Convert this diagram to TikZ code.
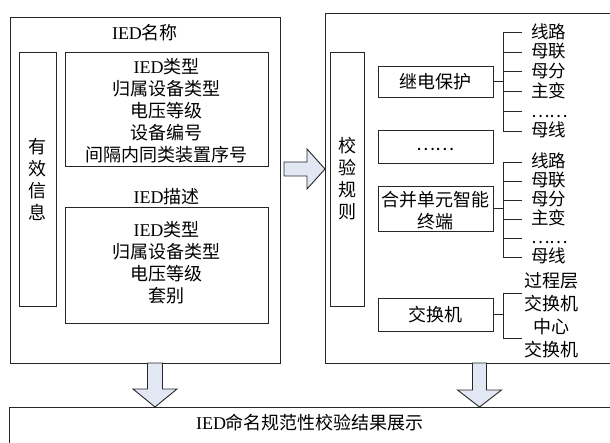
\documentclass[tikz,border=0pt]{standalone}
\usepackage{fontspec}
\setmainfont{Noto Sans CJK SC}
\newfontfamily\lat{Liberation Serif}
\newcommand\ied{{\lat IED}}
\definecolor{arrowfill}{HTML}{E2E8F3}
\definecolor{ink}{HTML}{262626}

\begin{document}
\begin{tikzpicture}[x=1pt,y=-1pt,
  line width=0.9pt,
  box/.style={draw=ink, inner sep=0pt},
  txt/.style={inner sep=0pt, align=center, font=\fontsize{18}{22}\selectfont},
  lbl/.style={inner sep=0pt, anchor=west, text height=13.5pt, text depth=2pt,
              font=\fontsize{17.5}{19.5}\selectfont},
  wire/.style={draw=ink},
  blockarrow/.style={draw=ink, fill=arrowfill, line join=miter},
]
\clip (0,0) rectangle (610,443);

% ---------- left panel: IED naming information ----------
\node[box, minimum width=270pt, minimum height=346pt] (namepanel) at (145,190) {};
\node[txt] (nametitle) at (145,33) {\ied 名称};
\node[box, minimum width=37pt, minimum height=254pt] (valid) at (37.5,179) {};
\node[txt, text width=20pt] (validtxt) at (37.5,179.5) {有\\效\\信\\息};
\node[box, minimum width=203pt, minimum height=114pt] (namebox) at (166.5,109) {};
\node[txt] (nametxt) at (166.5,111) {\ied 类型\\归属设备类型\\电压等级\\设备编号\\间隔内同类装置序号};
\node[txt] (desctitle) at (166.5,197) {\ied 描述};
\node[box, minimum width=203pt, minimum height=116pt] (descbox) at (166.5,265) {};
\node[txt] (desctxt) at (166.5,263) {\ied 类型\\归属设备类型\\电压等级\\套别};

% ---------- right panel: check rules ----------
\node[box, anchor=north west, minimum width=300pt, minimum height=350pt] (rulepanel) at (325,13) {};
\node[box, minimum width=34pt, minimum height=254pt] (rules) at (347,179) {};
\node[txt, text width=20pt] (rulestxt) at (347,179) {校\\验\\规\\则};

\node[box, txt, minimum width=115pt, minimum height=31pt] (relay) at (435.5,81.5) {继电保护};
\node[box, minimum width=115pt, minimum height=33pt] (others) at (435.5,146.5) {};
\node[txt] (otherstxt) at (435.5,149) {……};
\node[box, minimum width=115pt, minimum height=45pt] (merge) at (435.5,208.5) {};
\node[txt] (mergetxt) at (435.5,210.5) {合并单元智能\\终端};
\node[box, txt, minimum width=115pt, minimum height=33pt] (switch) at (435.5,314.5) {交换机};

% bracket of the relay protection
\coordinate (sp1) at (503,81.5);
\node[lbl] (a1) at (531,32.5) {线路};
\node[lbl] (a2) at (531,52.2) {母联};
\node[lbl] (a3) at (531,71.9) {母分};
\node[lbl] (a4) at (531,91.6) {主变};
\node[lbl] (a5) at (531,111.3) {……};
\node[lbl] (a6) at (531,131) {母线};
\draw[wire] (relay.east) -- (sp1);
\draw[wire] ([xshift=-9pt]a1.west) -- (sp1 |- a1) -- (sp1 |- a6) -- ([xshift=-9pt]a6.west);
\foreach \n in {a2,a3,a4,a5}
  \draw[wire] (sp1 |- \n) -- ([xshift=-9pt]\n.west);

% bracket of the merging unit / intelligent terminal
\coordinate (sp2) at (503,208.5);
\node[lbl] (b1) at (531,162) {线路};
\node[lbl] (b2) at (531,181) {母联};
\node[lbl] (b3) at (531,200) {母分};
\node[lbl] (b4) at (531,219) {主变};
\node[lbl] (b5) at (531,238) {……};
\node[lbl] (b6) at (531,257) {母线};
\draw[wire] (merge.east) -- (sp2);
\draw[wire] ([xshift=-9pt]b1.west) -- (sp2 |- b1) -- (sp2 |- b6) -- ([xshift=-9pt]b6.west);
\foreach \n in {b2,b3,b4,b5}
  \draw[wire] (sp2 |- \n) -- ([xshift=-9pt]\n.west);

% bracket of the switches
\coordinate (sp3) at (503,314.5);
\coordinate (c1) at (522,293);
\coordinate (c2) at (522,338);
\node[txt, font=\fontsize{18}{23}\selectfont] (swtxt) at (551,315.5) {过程层\\交换机\\中心\\交换机};
\draw[wire] (switch.east) -- (sp3);
\draw[wire] (c1) -- (sp3 |- c1) -- (sp3 |- c2) -- (c2);

% ---------- result panel ----------
\node[box, anchor=north west, minimum width=620pt, minimum height=60pt] (result) at (9,407) {};
\node[txt] (resulttxt) at (310,423) {\ied 命名规范性校验结果展示};

% ---------- block arrows ----------
\draw[blockarrow] (284,162) -- (307,162) -- (307,149) -- (325,169)
  -- (307,189) -- (307,176) -- (284,176) -- cycle;
\draw[blockarrow] (147.5,363) -- (147.5,389) -- (133,389) -- (155,407)
  -- (177,389) -- (162.5,389) -- (162.5,363) -- cycle;
\draw[blockarrow] (472.5,363) -- (472.5,390) -- (457.5,390) -- (479.5,407)
  -- (501.5,390) -- (486.5,390) -- (486.5,363) -- cycle;
\end{tikzpicture}
\end{document}
